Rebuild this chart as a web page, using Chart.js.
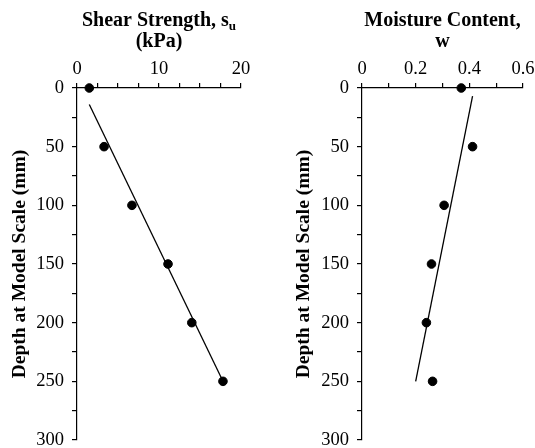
<!DOCTYPE html>
<html>
<head>
<meta charset="utf-8">
<script src="https://cdn.jsdelivr.net/npm/chart.js@4/dist/chart.umd.min.js"></script>
<style>
  html, body { margin: 0; padding: 0; background: #fff; }
  .wrap { display: flex; width: 535px; height: 448px; }
  canvas { display: block; }
</style>
</head>
<body>
<div class="wrap">
  <canvas id="shearChart" width="268" height="448"></canvas>
  <canvas id="moistureChart" width="267" height="448"></canvas>
</div>
<script>
// depth profile data
const depthMm = [0, 50, 100, 150, 200, 250];
const shearStrengthKPa = [1.5, 3.3, 6.7, 11.1, 14.0, 17.8];
const moistureContent = [0.37, 0.412, 0.306, 0.259, 0.24, 0.263];

// trend lines (end points)
const shearFitDepth = [14, 250];
const shearFitKPa = [1.5, 17.8];
const moistureFitDepth = [7, 250];
const moistureFitW = [0.412, 0.2];

const depthTicks = [0, 50, 100, 150, 200, 250, 300];

const FONT = 'Liberation Serif';

function toPoints(xs, ys) {
    return xs.map((x, i) => ({ x: x, y: ys[i] }));
}

// title with an optional subscript, drawn above the x axis
const profileTitle = {
    id: 'profileTitle',
    afterDraw(chart, args, opts) {
        if (!opts || !opts.lines) return;
        const ctx = chart.ctx;
        const area = chart.chartArea;
        const cx = (area.left + area.right) / 2;
        const main = 'bold 20px "' + FONT + '"';
        const sub = 'bold 13px "' + FONT + '"';
        ctx.save();
        ctx.fillStyle = '#000';
        ctx.textBaseline = 'alphabetic';
        ctx.textAlign = 'left';
        opts.lines.forEach((parts, i) => {
            const y = opts.baselines[i];
            let w = 0;
            parts.forEach(p => { ctx.font = p.sub ? sub : main; w += ctx.measureText(p.text).width; });
            let x = cx - w / 2;
            parts.forEach(p => {
                ctx.font = p.sub ? sub : main;
                ctx.fillText(p.text, x, p.sub ? y + 4 : y);
                x += ctx.measureText(p.text).width;
            });
        });
        ctx.restore();
    }
};

function buildChart(canvasId, xs, fitX, fitDepth, xOpts, titleLines, pad) {
    const canvas = document.getElementById(canvasId);
    const ctx = canvas.getContext('2d');
    return new Chart(ctx, {
        type: 'scatter',
        data: {
            datasets: [{
                data: toPoints(xs, depthMm),
                showLine: false,
                pointRadius: 4.3,
                pointHoverRadius: 4.3,
                pointBackgroundColor: '#000',
                pointBorderColor: '#000',
                clip: false
            }, {
                data: toPoints(fitX, fitDepth),
                showLine: true,
                pointRadius: 0,
                borderColor: '#000',
                borderWidth: 1.3,
                clip: false
            }]
        },
        options: {
            responsive: false,
            animation: false,
            devicePixelRatio: 1,
            layout: { padding: { left: pad.left, right: pad.right, top: pad.top, bottom: pad.bottom } },
            plugins: {
                legend: { display: false },
                tooltip: { enabled: false },
                profileTitle: { lines: titleLines, baselines: [26, 47] }
            },
            scales: {
                x: {
                    type: 'linear',
                    position: 'top',
                    min: xOpts.min,
                    max: xOpts.max,
                    afterFit: s => { s.height = 88; s.paddingLeft = 0; s.paddingRight = 0; },
                    border: { display: true, color: '#000', width: 1.2 },
                    grid: { drawOnChartArea: false, drawTicks: true, tickLength: 5, color: '#000', lineWidth: 1.2 },
                    ticks: {
                        stepSize: xOpts.step,
                        autoSkip: false,
                        maxRotation: 0,
                        padding: 3,
                        color: '#000',
                        font: { family: FONT, size: 18.5 },
                        callback: xOpts.label
                    }
                },
                y: {
                    type: 'linear',
                    reverse: true,
                    min: 0,
                    max: 300,
                    afterFit: s => { s.width = pad.yWidth; s.paddingTop = 0; s.paddingBottom = 0; },
                    border: { display: true, color: '#000', width: 1.2 },
                    grid: { drawOnChartArea: false, drawTicks: true, tickLength: 5, color: '#000', lineWidth: 1.2 },
                    title: {
                        display: true,
                        text: 'Depth at Model Scale (mm)',
                        color: '#000',
                        padding: 0,
                        font: { family: FONT, size: 19.5, weight: 'bold' }
                    },
                    ticks: {
                        stepSize: 25,
                        autoSkip: false,
                        padding: 8,
                        color: '#000',
                        font: { family: FONT, size: 18.5 },
                        callback: v => (depthTicks.includes(v) ? v : '')
                    }
                }
            }
        },
        plugins: [profileTitle]
    });
}

buildChart('shearChart', shearStrengthKPa, shearFitKPa, shearFitDepth, {
    min: 0, max: 20, step: 2.5,
    label: v => (v % 10 === 0 ? v : '')
}, [
    [{ text: 'Shear Strength, s' }, { text: 'u', sub: true }],
    [{ text: '(kPa)' }]
], { left: 8, right: 27, top: 0, bottom: 8, yWidth: 69 });

buildChart('moistureChart', moistureContent, moistureFitW, moistureFitDepth, {
    min: 0, max: 0.6, step: 0.1,
    label: v => {
        const k = Math.round(v * 10);
        if (k % 2 !== 0) return '';
        return k === 0 ? '0' : (k / 10).toFixed(1);
    }
}, [
    [{ text: 'Moisture Content,' }],
    [{ text: 'w' }]
], { left: 24, right: 12, top: 0, bottom: 8, yWidth: 70 });
</script>
</body>
</html>
